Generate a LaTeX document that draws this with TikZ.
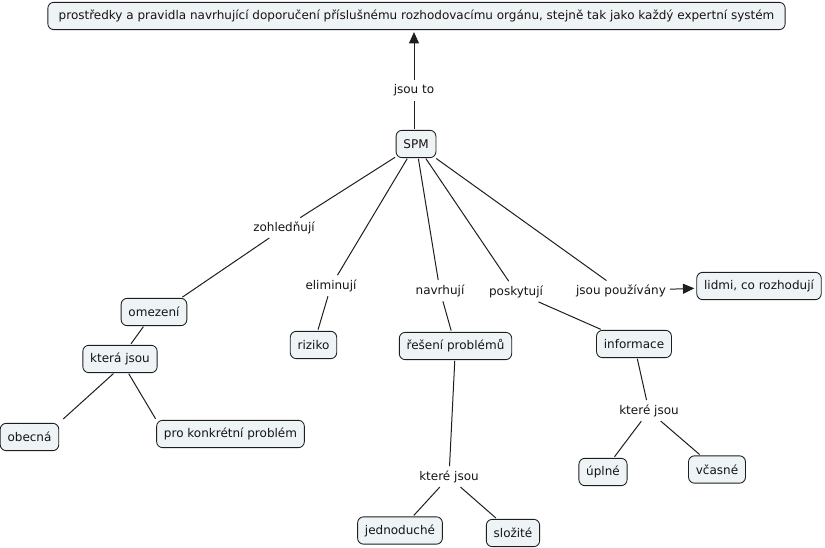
\documentclass[tikz,border=0pt]{standalone}
\usepackage{fontspec}
\setmainfont{DejaVu Sans}
\usetikzlibrary{arrows.meta,calc}
\definecolor{boxfill}{RGB}{238,243,246}
\definecolor{boxline}{RGB}{30,30,30}
\definecolor{txt}{RGB}{20,20,20}
\begin{document}
\begin{tikzpicture}[x=0.75pt,y=-0.75pt,
  every node/.style={font=\fontsize{9}{11}\selectfont, text=txt},
  concept/.style={draw=boxline, fill=boxfill, rounded corners=4.5pt, line width=0.65pt,
    minimum height=20.5pt, inner xsep=5.5pt, inner ysep=2pt},
  linklabel/.style={inner sep=2.5pt},
  conn/.style={draw=boxline, line width=0.75pt, shorten <=0.5pt, shorten >=1pt},
  arr/.style={conn, -{Triangle[length=8.5pt,width=7.5pt]}, shorten >=1.5pt}]
\useasboundingbox (0,0) rectangle (825,548);
% concepts
\node[concept, minimum width=553pt] (top) at (416.5,16) {prostředky a pravidla navrhující doporučení příslušnému rozhodovacímu orgánu, stejně tak jako každý expertní systém};
\node[concept] (spm) at (416,144) {SPM};
\node[concept] (omez) at (154,312) {omezení};
\node[concept] (ktera) at (120,359) {která jsou};
\node[concept] (obec) at (29.5,437) {obecná};
\node[concept] (konk) at (230.5,434) {pro konkrétní problém};
\node[concept] (riz) at (313.5,345) {riziko};
\node[concept] (res) at (455.5,346) {řešení problémů};
\node[concept] (jedn) at (400,530.5) {jednoduché};
\node[concept] (slo) at (513,533) {složité};
\node[concept] (inf) at (634,344) {informace};
\node[concept] (upl) at (603,472) {úplné};
\node[concept] (vcas) at (717,469.5) {včasné};
\node[concept] (lid) at (759,286) {lidmi, co rozhodují};
% link labels
\node[linklabel] (jsouto) at (414,90) {jsou to};
\node[linklabel] (zoh) at (284,228) {zohledňují};
\node[linklabel] (elim) at (331,286) {eliminují};
\node[linklabel] (navr) at (440,291) {navrhují};
\node[linklabel] (posk) at (516,292) {poskytují};
\node[linklabel] (pouz) at (621,291) {jsou používány};
\node[linklabel] (kj1) at (449,477) {které jsou};
\node[linklabel] (kj2) at (649,411) {které jsou};
% connectors
\draw[conn] (spm.north -| jsouto.south) -- (jsouto.south);
\draw[arr] (jsouto.north) -- (top.south -| jsouto.north);
\draw[conn] (spm) -- (zoh);
\draw[conn] (zoh) -- ($(omez.north east)+(-6,0)$);
\draw[conn] (omez) -- (ktera);
\draw[conn] ($(ktera.south)+(-6,0)$) -- ($(obec.north east)+(3,-3)$);
\draw[conn] (ktera) -- (konk.north west);
\draw[conn] (spm) -- (elim);
\draw[conn] (elim) -- (riz);
\draw[conn] (spm) -- (navr);
\draw[conn] (navr) -- (res);
\draw[conn] (res) -- (kj1);
\draw[conn] (kj1) -- (jedn);
\draw[conn] (kj1) -- (slo);
\draw[conn] (spm) -- (posk);
\draw[conn] (posk) -- (inf);
\draw[conn] (inf) -- (kj2);
\draw[conn] (kj2) -- (upl);
\draw[conn] (kj2) -- (vcas);
\draw[conn] (spm) -- (pouz);
\draw[arr] (pouz) -- (lid);
\end{tikzpicture}
\end{document}
